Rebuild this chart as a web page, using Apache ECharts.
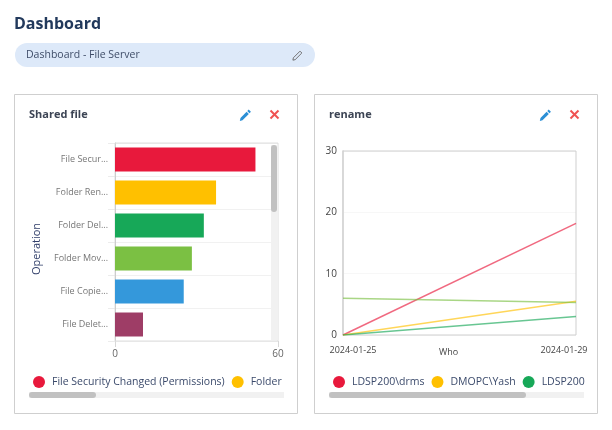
<!DOCTYPE html>
<html><head><meta charset="utf-8">
<style>html,body{margin:0;padding:0;background:#fff}#c{width:612px;height:430px}</style>
<script src="https://cdn.jsdelivr.net/npm/echarts@6/dist/echarts.min.js"></script>
</head><body><div id="c"></div>
<script>
const operations=['File Security Changed (Permissions)','Folder Renamed','Folder Deleted','Folder Moved','File Copied','File Deleted'];
const operationCounts=[51.7,37.2,32.7,28.3,25.3,10.3];
const operationColors=['#e8193c','#ffc000','#17a858','#7bc043','#3498db','#9e3d66'];
const dates=['2024-01-25','2024-01-29'];
const users=['LDSP200\\drms','DMOPC\\Yash','LDSP200\\admin','LDSP200\\guest'];
const drms=[0,18.2];
const yash=[0,5.5];
const admin=[0,3];
const guest=[6,5.3];
const userValues=[drms,yash,admin,guest];
const userColors=['#e8193c','#ffc000','#17a858','#7bc043'];
const font='"Open Sans"';

const pencil=(x,y,s,fill)=>{
  const k=s/12;
  const pts=a=>a.map(p=>[x+p[0]*k,y+p[1]*k]);
  const tip=[[9.2,0.6],[11.4,2.8],[10,4.2],[7.8,2]];
  const body=[[7.1,2.7],[9.3,4.9],[3,11.2],[0.3,11.9],[1,9]];
  return {type:'group',z:50,children:[
    {type:'polygon',z:50,shape:{points:pts(tip)},style:{fill:fill}},
    {type:'polygon',z:50,shape:{points:pts(body)},style:{fill:fill}}
  ]};
};
const outlinePencil=(x,y,s,stroke)=>{
  const k=s/12;
  const pts=a=>a.map(p=>[x+p[0]*k,y+p[1]*k]);
  const outline=[[9,0.8],[11.2,3],[3.2,11],[0.5,11.6],[1,8.8]];
  return {type:'polygon',z:50,shape:{points:pts(outline)},style:{fill:'none',stroke:stroke,lineWidth:.9}};
};
const cross=(x,y,s)=>({type:'group',z:50,children:[
  {type:'line',z:50,shape:{x1:x,y1:y,x2:x+s,y2:y+s},style:{stroke:'#f05252',lineWidth:2}},
  {type:'line',z:50,shape:{x1:x+s,y1:y,x2:x,y2:y+s},style:{stroke:'#f05252',lineWidth:2}}
]});
const label=(x,y,text,size,weight,fill)=>({type:'text',z:50,x:x,y:y,
  style:{text:text,fontFamily:font,fontSize:size,fontWeight:weight,fill:fill,verticalAlign:'middle'}});
const box=(x,y,w,h,fill,r)=>({type:'rect',z:50,shape:{x:x,y:y,width:w,height:h,r:r||0},style:{fill:fill}});
const card=(x,w)=>({type:'rect',z:-1,shape:{x:x+.5,y:94.5,width:w,height:319},style:{fill:'#fff',stroke:'#cfcfcf',lineWidth:1}});

const clip=(name,w)=>({name:name,textStyle:{width:w,overflow:'truncate',ellipsis:''}});
const legendBase={orient:'horizontal',top:376,padding:0,itemWidth:12,itemHeight:12,itemGap:7,icon:'circle',
  textStyle:{fontFamily:font,fontSize:10.5,color:'#3b4a6b',padding:[0,0,0,2]},selectedMode:false,width:600};

const barSeries=operations.map((name,i)=>({
  type:'bar',name:name,stack:'all',xAxisIndex:0,yAxisIndex:0,barWidth:24,
  itemStyle:{color:operationColors[i]},
  data:operations.map((_,j)=>j===i?operationCounts[i]:null)}));
const lineSeries=users.map((name,i)=>({
  type:'line',name:name,xAxisIndex:1,yAxisIndex:1,showSymbol:false,symbol:'none',
  lineStyle:{width:1.5,color:userColors[i],opacity:.65},itemStyle:{color:userColors[i]},
  data:userValues[i]}));

const chart=echarts.init(document.getElementById('c'),null,{renderer:'canvas'});
chart.setOption({
  animation:false,backgroundColor:'#fff',
  textStyle:{fontFamily:font},
  grid:[
    {z:1,left:115,right:334,top:143,height:198,show:true,borderColor:'#dedede',borderWidth:1},
    {z:1,left:343,right:36,top:151,height:184,show:true,borderColor:'#cfcfcf',borderWidth:1}
  ],
  xAxis:[
    {type:'value',gridIndex:0,min:0,max:60,interval:60,
     axisLine:{show:false},axisTick:{show:true,length:6,lineStyle:{color:'#d8d8d8'}},
     splitLine:{show:false},axisLabel:{fontFamily:font,fontSize:10,color:'#666',margin:8,showMinLabel:true,showMaxLabel:true}},
    {type:'category',gridIndex:1,data:dates,boundaryGap:false,name:'Who',nameLocation:'middle',nameGap:13,nameMoveOverlap:false,
     nameTextStyle:{fontFamily:font,fontSize:9,color:'#444',padding:[0,22,0,0]},
     axisLine:{show:false},axisTick:{show:false},
     axisLabel:{interval:0,margin:11,fontFamily:font,fontSize:9,color:'#444',
       formatter:(v,i)=>i===0?'{a|'+v+'}':'{b|'+v+'}',
       rich:{a:{fontFamily:font,fontSize:9,color:'#444',padding:[0,0,0,20]},b:{fontFamily:font,fontSize:9,color:'#444',padding:[0,24,0,0]}}}}
  ],
  yAxis:[
    {type:'category',gridIndex:0,data:operations,inverse:true,name:'Operation',nameLocation:'middle',nameGap:73,
     nameTextStyle:{fontFamily:font,fontSize:11,color:'#33406b',padding:[0,14,0,0]},
     axisLine:{show:true,onZero:false,lineStyle:{color:'#bdbdbd'}},
     axisTick:{show:true,length:7,lineStyle:{color:'#ececec'}},
     splitLine:{show:true,lineStyle:{color:'#f1f1f1'}},
     axisLabel:{fontFamily:font,fontSize:9,color:'#777',margin:7,interval:0,formatter:v=>v.slice(0,10)+'...'}},
    {type:'value',gridIndex:1,min:0,max:30,interval:10,
     axisLine:{show:true,lineStyle:{color:'#e2e2e2',width:2}},axisTick:{show:false},
     splitLine:{show:true,lineStyle:{color:'#f7f7f7'}},
     axisLabel:{fontFamily:font,fontSize:10,color:'#444',margin:6}}
  ],
  legend:[
    Object.assign({},legendBase,{left:33,data:[operations[0],clip(operations[1],32)]}),
    Object.assign({},legendBase,{left:333,data:[users[0],users[1],clip(users[2],48)]})
  ],
  series:barSeries.concat(lineSeries),
  graphic:{elements:[
    card(14,283),card(314,283),
    label(14,24,'Dashboard',16,'bold','#22395c'),
    box(15,43,300,24,'#dde9f9',12),
    label(26,55,'Dashboard - File Server',10.5,'normal','#3f4d68'),
    outlinePencil(292.5,50.5,10,'#666'),
    label(29,115,'Shared file',11,'bold','#3c4454'),
    pencil(239.5,109,12,'#2b8fd6'),
    cross(270.5,110.5,8),
    label(329,115,'rename',11,'bold','#3c4454'),
    pencil(539.5,109,12,'#2b8fd6'),
    cross(570.5,110.5,8),
    box(271,145,7,195,'#f1f1f1'),
    box(271,145,6,67,'#c1c1c1',3),
    box(29,392,255,6,'#f1f1f1'),
    box(29,392,67,6,'#c1c1c1',3),
    box(329,392,255,6,'#f1f1f1'),
    box(329,392,197,6,'#c1c1c1',3)
  ]}
});
</script></body></html>
